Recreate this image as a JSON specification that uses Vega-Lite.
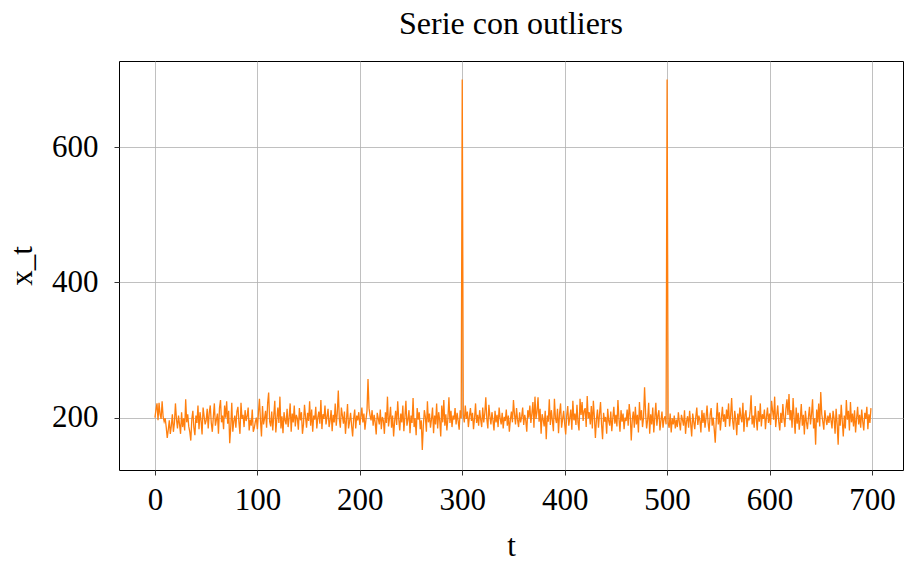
{
  "$schema": "https://vega.github.io/schema/vega-lite/v6.json",
  "width": 784,
  "height": 409,
  "autosize": "none",
  "padding": {"left": 119, "top": 61, "right": 1, "bottom": 96},
  "background": "white",
  "config": {
    "font": "Liberation Serif",
    "view": {"stroke": "black", "strokeWidth": 1},
    "axis": {
      "grid": true, "gridColor": "#b0b0b0", "gridWidth": 0.8,
      "domain": false, "tickColor": "black", "tickSize": 5, "tickWidth": 0.8,
      "labelFont": "Liberation Serif", "labelFontSize": 31, "labelColor": "black",
      "titleFont": "Liberation Serif", "titleFontSize": 31, "titleFontWeight": "normal", "titleColor": "black"
    }
  },
  "title": {"text": "Serie con outliers", "font": "Liberation Serif", "fontSize": 32, "fontWeight": "normal", "color": "black", "anchor": "middle", "offset": 20},
  "data": {"values": [
{"t":0,"x":200},{"t":1,"x":212},{"t":2,"x":221},{"t":3,"x":196},{"t":4,"x":222},{"t":5,"x":205},{"t":6,"x":198},{"t":7,"x":224},{"t":8,"x":201},{"t":9,"x":194},
{"t":10,"x":199},{"t":11,"x":186},{"t":12,"x":170},{"t":13,"x":182},{"t":14,"x":196},{"t":15,"x":176},{"t":16,"x":188},{"t":17,"x":205},{"t":18,"x":179},{"t":19,"x":192},
{"t":20,"x":221},{"t":21,"x":198},{"t":22,"x":184},{"t":23,"x":203},{"t":24,"x":190},{"t":25,"x":176},{"t":26,"x":208},{"t":27,"x":186},{"t":28,"x":199},{"t":29,"x":181},
{"t":30,"x":227},{"t":31,"x":193},{"t":32,"x":205},{"t":33,"x":187},{"t":34,"x":179},{"t":35,"x":166},{"t":36,"x":198},{"t":37,"x":210},{"t":38,"x":185},{"t":39,"x":174},
{"t":40,"x":203},{"t":41,"x":192},{"t":42,"x":218},{"t":43,"x":183},{"t":44,"x":208},{"t":45,"x":196},{"t":46,"x":175},{"t":47,"x":215},{"t":48,"x":202},{"t":49,"x":190},
{"t":50,"x":196},{"t":51,"x":213},{"t":52,"x":184},{"t":53,"x":207},{"t":54,"x":218},{"t":55,"x":192},{"t":56,"x":179},{"t":57,"x":201},{"t":58,"x":221},{"t":59,"x":188},
{"t":60,"x":197},{"t":61,"x":206},{"t":62,"x":176},{"t":63,"x":214},{"t":64,"x":226},{"t":65,"x":193},{"t":66,"x":203},{"t":67,"x":183},{"t":68,"x":218},{"t":69,"x":200},
{"t":70,"x":224},{"t":71,"x":191},{"t":72,"x":210},{"t":73,"x":162},{"t":74,"x":186},{"t":75,"x":222},{"t":76,"x":179},{"t":77,"x":195},{"t":78,"x":203},{"t":79,"x":185},
{"t":80,"x":209},{"t":81,"x":216},{"t":82,"x":193},{"t":83,"x":176},{"t":84,"x":222},{"t":85,"x":198},{"t":86,"x":204},{"t":87,"x":186},{"t":88,"x":211},{"t":89,"x":195},
{"t":90,"x":202},{"t":91,"x":215},{"t":92,"x":181},{"t":93,"x":197},{"t":94,"x":188},{"t":95,"x":212},{"t":96,"x":179},{"t":97,"x":185},{"t":98,"x":194},{"t":99,"x":200},
{"t":100,"x":183},{"t":101,"x":207},{"t":102,"x":228},{"t":103,"x":196},{"t":104,"x":172},{"t":105,"x":217},{"t":106,"x":190},{"t":107,"x":199},{"t":108,"x":210},{"t":109,"x":185},
{"t":110,"x":221},{"t":111,"x":237},{"t":112,"x":194},{"t":113,"x":187},{"t":114,"x":209},{"t":115,"x":181},{"t":116,"x":203},{"t":117,"x":225},{"t":118,"x":178},{"t":119,"x":198},
{"t":120,"x":215},{"t":121,"x":192},{"t":122,"x":231},{"t":123,"x":184},{"t":124,"x":202},{"t":125,"x":177},{"t":126,"x":208},{"t":127,"x":196},{"t":128,"x":190},{"t":129,"x":213},
{"t":130,"x":186},{"t":131,"x":200},{"t":132,"x":221},{"t":133,"x":179},{"t":134,"x":206},{"t":135,"x":193},{"t":136,"x":218},{"t":137,"x":187},{"t":138,"x":204},{"t":139,"x":199},
{"t":140,"x":182},{"t":141,"x":214},{"t":142,"x":196},{"t":143,"x":208},{"t":144,"x":176},{"t":145,"x":190},{"t":146,"x":219},{"t":147,"x":201},{"t":148,"x":185},{"t":149,"x":207},
{"t":150,"x":195},{"t":151,"x":224},{"t":152,"x":188},{"t":153,"x":212},{"t":154,"x":179},{"t":155,"x":203},{"t":156,"x":197},{"t":157,"x":216},{"t":158,"x":184},{"t":159,"x":200},
{"t":160,"x":209},{"t":161,"x":191},{"t":162,"x":226},{"t":163,"x":183},{"t":164,"x":205},{"t":165,"x":198},{"t":166,"x":218},{"t":167,"x":190},{"t":168,"x":201},{"t":169,"x":213},
{"t":170,"x":186},{"t":171,"x":196},{"t":172,"x":211},{"t":173,"x":180},{"t":174,"x":204},{"t":175,"x":193},{"t":176,"x":221},{"t":177,"x":188},{"t":178,"x":207},{"t":179,"x":240},
{"t":180,"x":198},{"t":181,"x":185},{"t":182,"x":215},{"t":183,"x":203},{"t":184,"x":191},{"t":185,"x":209},{"t":186,"x":176},{"t":187,"x":197},{"t":188,"x":220},{"t":189,"x":184},
{"t":190,"x":194},{"t":191,"x":207},{"t":192,"x":188},{"t":193,"x":172},{"t":194,"x":199},{"t":195,"x":212},{"t":196,"x":184},{"t":197,"x":203},{"t":198,"x":196},{"t":199,"x":208},
{"t":200,"x":189},{"t":201,"x":201},{"t":202,"x":215},{"t":203,"x":193},{"t":204,"x":206},{"t":205,"x":182},{"t":206,"x":197},{"t":207,"x":210},{"t":208,"x":257},{"t":209,"x":214},
{"t":210,"x":203},{"t":211,"x":196},{"t":212,"x":211},{"t":213,"x":188},{"t":214,"x":204},{"t":215,"x":193},{"t":216,"x":175},{"t":217,"x":207},{"t":218,"x":199},{"t":219,"x":190},
{"t":220,"x":212},{"t":221,"x":183},{"t":222,"x":201},{"t":223,"x":196},{"t":224,"x":176},{"t":225,"x":208},{"t":226,"x":192},{"t":227,"x":231},{"t":228,"x":187},{"t":229,"x":199},
{"t":230,"x":216},{"t":231,"x":185},{"t":232,"x":203},{"t":233,"x":172},{"t":234,"x":195},{"t":235,"x":210},{"t":236,"x":189},{"t":237,"x":224},{"t":238,"x":198},{"t":239,"x":181},
{"t":240,"x":206},{"t":241,"x":193},{"t":242,"x":218},{"t":243,"x":180},{"t":244,"x":201},{"t":245,"x":225},{"t":246,"x":188},{"t":247,"x":197},{"t":248,"x":211},{"t":249,"x":177},
{"t":250,"x":203},{"t":251,"x":192},{"t":252,"x":229},{"t":253,"x":186},{"t":254,"x":199},{"t":255,"x":174},{"t":256,"x":214},{"t":257,"x":197},{"t":258,"x":208},{"t":259,"x":183},
{"t":260,"x":196},{"t":261,"x":152},{"t":262,"x":188},{"t":263,"x":211},{"t":264,"x":201},{"t":265,"x":179},{"t":266,"x":224},{"t":267,"x":193},{"t":268,"x":206},{"t":269,"x":185},
{"t":270,"x":198},{"t":271,"x":215},{"t":272,"x":177},{"t":273,"x":203},{"t":274,"x":190},{"t":275,"x":221},{"t":276,"x":184},{"t":277,"x":208},{"t":278,"x":196},{"t":279,"x":172},
{"t":280,"x":218},{"t":281,"x":193},{"t":282,"x":226},{"t":283,"x":188},{"t":284,"x":205},{"t":285,"x":181},{"t":286,"x":199},{"t":287,"x":230},{"t":288,"x":192},{"t":289,"x":210},
{"t":290,"x":186},{"t":291,"x":203},{"t":292,"x":197},{"t":293,"x":214},{"t":294,"x":190},{"t":295,"x":207},{"t":296,"x":195},{"t":297,"x":182},{"t":298,"x":211},{"t":299,"x":199},
{"t":300,"x":700},{"t":301,"x":205},{"t":302,"x":193},{"t":303,"x":218},{"t":304,"x":198},{"t":305,"x":209},{"t":306,"x":186},{"t":307,"x":202},{"t":308,"x":214},{"t":309,"x":195},
{"t":310,"x":207},{"t":311,"x":183},{"t":312,"x":199},{"t":313,"x":221},{"t":314,"x":192},{"t":315,"x":204},{"t":316,"x":188},{"t":317,"x":211},{"t":318,"x":197},{"t":319,"x":186},
{"t":320,"x":215},{"t":321,"x":193},{"t":322,"x":206},{"t":323,"x":230},{"t":324,"x":198},{"t":325,"x":184},{"t":326,"x":219},{"t":327,"x":202},{"t":328,"x":190},{"t":329,"x":208},
{"t":330,"x":196},{"t":331,"x":181},{"t":332,"x":210},{"t":333,"x":193},{"t":334,"x":204},{"t":335,"x":186},{"t":336,"x":215},{"t":337,"x":199},{"t":338,"x":190},{"t":339,"x":207},
{"t":340,"x":184},{"t":341,"x":201},{"t":342,"x":195},{"t":343,"x":212},{"t":344,"x":188},{"t":345,"x":203},{"t":346,"x":179},{"t":347,"x":197},{"t":348,"x":209},{"t":349,"x":193},
{"t":350,"x":226},{"t":351,"x":205},{"t":352,"x":190},{"t":353,"x":214},{"t":354,"x":197},{"t":355,"x":186},{"t":356,"x":208},{"t":357,"x":193},{"t":358,"x":201},{"t":359,"x":215},
{"t":360,"x":189},{"t":361,"x":204},{"t":362,"x":196},{"t":363,"x":179},{"t":364,"x":211},{"t":365,"x":200},{"t":366,"x":218},{"t":367,"x":192},{"t":368,"x":206},{"t":369,"x":223},
{"t":370,"x":185},{"t":371,"x":231},{"t":372,"x":198},{"t":373,"x":209},{"t":374,"x":230},{"t":375,"x":194},{"t":376,"x":213},{"t":377,"x":176},{"t":378,"x":205},{"t":379,"x":197},
{"t":380,"x":187},{"t":381,"x":210},{"t":382,"x":168},{"t":383,"x":203},{"t":384,"x":194},{"t":385,"x":227},{"t":386,"x":189},{"t":387,"x":211},{"t":388,"x":196},{"t":389,"x":180},
{"t":390,"x":228},{"t":391,"x":199},{"t":392,"x":192},{"t":393,"x":213},{"t":394,"x":177},{"t":395,"x":206},{"t":396,"x":221},{"t":397,"x":185},{"t":398,"x":198},{"t":399,"x":210},
{"t":400,"x":191},{"t":401,"x":175},{"t":402,"x":203},{"t":403,"x":217},{"t":404,"x":188},{"t":405,"x":200},{"t":406,"x":212},{"t":407,"x":182},{"t":408,"x":225},{"t":409,"x":196},
{"t":410,"x":206},{"t":411,"x":189},{"t":412,"x":219},{"t":413,"x":193},{"t":414,"x":181},{"t":415,"x":228},{"t":416,"x":204},{"t":417,"x":223},{"t":418,"x":195},{"t":419,"x":210},
{"t":420,"x":214},{"t":421,"x":186},{"t":422,"x":232},{"t":423,"x":199},{"t":424,"x":208},{"t":425,"x":190},{"t":426,"x":217},{"t":427,"x":184},{"t":428,"x":225},{"t":429,"x":201},
{"t":430,"x":170},{"t":431,"x":197},{"t":432,"x":212},{"t":433,"x":185},{"t":434,"x":205},{"t":435,"x":223},{"t":436,"x":190},{"t":437,"x":168},{"t":438,"x":207},{"t":439,"x":194},
{"t":440,"x":201},{"t":441,"x":176},{"t":442,"x":213},{"t":443,"x":195},{"t":444,"x":188},{"t":445,"x":209},{"t":446,"x":180},{"t":447,"x":199},{"t":448,"x":216},{"t":449,"x":191},
{"t":450,"x":204},{"t":451,"x":187},{"t":452,"x":226},{"t":453,"x":198},{"t":454,"x":179},{"t":455,"x":211},{"t":456,"x":194},{"t":457,"x":206},{"t":458,"x":183},{"t":459,"x":200},
{"t":460,"x":195},{"t":461,"x":212},{"t":462,"x":188},{"t":463,"x":220},{"t":464,"x":203},{"t":465,"x":166},{"t":466,"x":197},{"t":467,"x":209},{"t":468,"x":185},{"t":469,"x":216},
{"t":470,"x":190},{"t":471,"x":204},{"t":472,"x":178},{"t":473,"x":223},{"t":474,"x":196},{"t":475,"x":211},{"t":476,"x":186},{"t":477,"x":200},{"t":478,"x":245},{"t":479,"x":207},
{"t":480,"x":184},{"t":481,"x":197},{"t":482,"x":222},{"t":483,"x":176},{"t":484,"x":205},{"t":485,"x":190},{"t":486,"x":215},{"t":487,"x":178},{"t":488,"x":200},{"t":489,"x":222},
{"t":490,"x":188},{"t":491,"x":203},{"t":492,"x":211},{"t":493,"x":181},{"t":494,"x":196},{"t":495,"x":209},{"t":496,"x":185},{"t":497,"x":198},{"t":498,"x":202},{"t":499,"x":190},
{"t":500,"x":700},{"t":501,"x":192},{"t":502,"x":185},{"t":503,"x":206},{"t":504,"x":178},{"t":505,"x":199},{"t":506,"x":190},{"t":507,"x":203},{"t":508,"x":184},{"t":509,"x":197},
{"t":510,"x":186},{"t":511,"x":208},{"t":512,"x":193},{"t":513,"x":181},{"t":514,"x":204},{"t":515,"x":197},{"t":516,"x":188},{"t":517,"x":211},{"t":518,"x":176},{"t":519,"x":195},
{"t":520,"x":202},{"t":521,"x":185},{"t":522,"x":210},{"t":523,"x":191},{"t":524,"x":172},{"t":525,"x":206},{"t":526,"x":194},{"t":527,"x":183},{"t":528,"x":201},{"t":529,"x":215},
{"t":530,"x":189},{"t":531,"x":203},{"t":532,"x":196},{"t":533,"x":178},{"t":534,"x":211},{"t":535,"x":192},{"t":536,"x":207},{"t":537,"x":185},{"t":538,"x":199},{"t":539,"x":218},
{"t":540,"x":193},{"t":541,"x":179},{"t":542,"x":204},{"t":543,"x":214},{"t":544,"x":188},{"t":545,"x":200},{"t":546,"x":183},{"t":547,"x":163},{"t":548,"x":196},{"t":549,"x":222},
{"t":550,"x":190},{"t":551,"x":208},{"t":552,"x":181},{"t":553,"x":199},{"t":554,"x":216},{"t":555,"x":194},{"t":556,"x":205},{"t":557,"x":186},{"t":558,"x":212},{"t":559,"x":198},
{"t":560,"x":221},{"t":561,"x":187},{"t":562,"x":203},{"t":563,"x":229},{"t":564,"x":195},{"t":565,"x":182},{"t":566,"x":210},{"t":567,"x":197},{"t":568,"x":174},{"t":569,"x":206},
{"t":570,"x":189},{"t":571,"x":215},{"t":572,"x":201},{"t":573,"x":193},{"t":574,"x":222},{"t":575,"x":179},{"t":576,"x":204},{"t":577,"x":211},{"t":578,"x":186},{"t":579,"x":200},
{"t":580,"x":196},{"t":581,"x":208},{"t":582,"x":233},{"t":583,"x":190},{"t":584,"x":203},{"t":585,"x":185},{"t":586,"x":217},{"t":587,"x":199},{"t":588,"x":181},{"t":589,"x":210},
{"t":590,"x":194},{"t":591,"x":221},{"t":592,"x":187},{"t":593,"x":205},{"t":594,"x":198},{"t":595,"x":212},{"t":596,"x":183},{"t":597,"x":201},{"t":598,"x":215},{"t":599,"x":192},
{"t":600,"x":206},{"t":601,"x":189},{"t":602,"x":225},{"t":603,"x":210},{"t":604,"x":197},{"t":605,"x":231},{"t":606,"x":186},{"t":607,"x":203},{"t":608,"x":218},{"t":609,"x":194},
{"t":610,"x":181},{"t":611,"x":207},{"t":612,"x":192},{"t":613,"x":220},{"t":614,"x":199},{"t":615,"x":186},{"t":616,"x":213},{"t":617,"x":227},{"t":618,"x":204},{"t":619,"x":235},
{"t":620,"x":196},{"t":621,"x":211},{"t":622,"x":185},{"t":623,"x":229},{"t":624,"x":200},{"t":625,"x":176},{"t":626,"x":215},{"t":627,"x":191},{"t":628,"x":207},{"t":629,"x":182},
{"t":630,"x":198},{"t":631,"x":220},{"t":632,"x":188},{"t":633,"x":204},{"t":634,"x":175},{"t":635,"x":210},{"t":636,"x":194},{"t":637,"x":183},{"t":638,"x":201},{"t":639,"x":216},
{"t":640,"x":190},{"t":641,"x":205},{"t":642,"x":227},{"t":643,"x":184},{"t":644,"x":199},{"t":645,"x":160},{"t":646,"x":212},{"t":647,"x":193},{"t":648,"x":221},{"t":649,"x":187},
{"t":650,"x":238},{"t":651,"x":205},{"t":652,"x":194},{"t":653,"x":182},{"t":654,"x":211},{"t":655,"x":198},{"t":656,"x":189},{"t":657,"x":203},{"t":658,"x":192},{"t":659,"x":207},
{"t":660,"x":196},{"t":661,"x":184},{"t":662,"x":210},{"t":663,"x":199},{"t":664,"x":176},{"t":665,"x":213},{"t":666,"x":191},{"t":667,"x":160},{"t":668,"x":205},{"t":669,"x":188},
{"t":670,"x":219},{"t":671,"x":195},{"t":672,"x":172},{"t":673,"x":203},{"t":674,"x":184},{"t":675,"x":226},{"t":676,"x":197},{"t":677,"x":210},{"t":678,"x":181},{"t":679,"x":223},
{"t":680,"x":193},{"t":681,"x":206},{"t":682,"x":187},{"t":683,"x":211},{"t":684,"x":178},{"t":685,"x":199},{"t":686,"x":216},{"t":687,"x":190},{"t":688,"x":204},{"t":689,"x":185},
{"t":690,"x":212},{"t":691,"x":194},{"t":692,"x":181},{"t":693,"x":207},{"t":694,"x":198},{"t":695,"x":216},{"t":696,"x":183},{"t":697,"x":205},{"t":698,"x":192},{"t":699,"x":214}
  ]},
  "mark": {"type": "line", "color": "#ff7f0e", "strokeWidth": 1.3, "clip": true},
  "encoding": {
    "x": {"field": "t", "type": "quantitative", "title": "t",
      "scale": {"domain": [-35.1, 730.3], "nice": false, "zero": false},
      "axis": {"values": [0, 100, 200, 300, 400, 500, 600, 700], "labelPadding": 10, "titlePadding": 16, "labelFlush": false}},
    "y": {"field": "x", "type": "quantitative", "title": "x_t",
      "scale": {"domain": [122.5, 727.5], "nice": false, "zero": false},
      "axis": {"values": [200, 400, 600], "labelPadding": 16, "titlePadding": 13, "labelFlush": false}}
  }
}
